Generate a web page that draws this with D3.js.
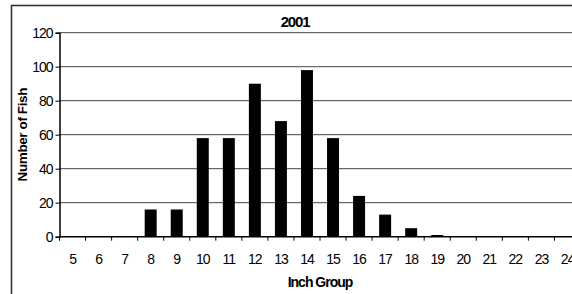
<!DOCTYPE html>
<html>
<head>
<meta charset="utf-8">
<script src="https://cdn.jsdelivr.net/npm/d3@7"></script>
<style>
  body { margin: 0; background: #fff; overflow: hidden; }
  text { font-family: "Liberation Sans", Arial, sans-serif; fill: #000; }
</style>
</head>
<body>
<div id="chart"></div>
<script>
// inch groups along the x axis
var inchGroups = [5, 6, 7, 8, 9, 10, 11, 12, 13, 14, 15, 16, 17, 18, 19, 20, 21, 22, 23, 24];
// number of fish in each group (2001)
var fishCounts = [0, 0, 0, 16, 16, 58, 58, 90, 68, 98, 58, 24, 13, 5, 1, 0, 0, 0, 0, 0];
var yTicks = [0, 20, 40, 60, 80, 100, 120];

var width = 572, height = 294;
var margin = {left: 59.5, top: 32.7};
var plotW = 521, plotH = 204;

var svg = d3.select("#chart").append("svg")
    .attr("width", width)
    .attr("height", height);

// outer chart frame (runs off the right and bottom edge)
svg.append("rect")
    .attr("x", 11.5).attr("y", 5.5)
    .attr("width", 620).attr("height", 320)
    .attr("fill", "none")
    .attr("stroke", "#333")
    .attr("stroke-width", 1.6);

var x = d3.scaleBand()
    .domain(inchGroups)
    .range([0, plotW])
    .padding(0);

var y = d3.scaleLinear()
    .domain([0, 120])
    .range([plotH, 0]);

var g = svg.append("g")
    .attr("transform", "translate(" + margin.left + "," + margin.top + ")");

// gridlines
g.selectAll(".grid")
    .data(yTicks.filter(function(d) { return d > 0; }))
    .enter().append("line")
    .attr("class", "grid")
    .attr("x1", 0).attr("x2", plotW)
    .attr("y1", function(d) { return y(d); })
    .attr("y2", function(d) { return y(d); })
    .attr("stroke", "#444")
    .attr("stroke-width", 1);

// bars
var barW = x.bandwidth() * 0.46;
g.selectAll(".bar")
    .data(fishCounts)
    .enter().append("rect")
    .attr("class", "bar")
    .attr("x", function(d, i) { return x(inchGroups[i]) + (x.bandwidth() - barW) / 2; })
    .attr("y", function(d) { return y(d); })
    .attr("width", barW)
    .attr("height", function(d) { return plotH - y(d); })
    .attr("fill", "#000");

// y axis
var yAxis = g.append("g")
    .call(d3.axisLeft(y).tickValues(yTicks).tickSize(4).tickPadding(3));
yAxis.select(".domain").attr("stroke", "#000").attr("stroke-width", 1.5);
yAxis.selectAll(".tick line").attr("stroke", "#000");
yAxis.selectAll(".tick text")
    .style("font-size", "14px")
    .style("letter-spacing", "-1px");

// x axis: ticks sit on the band edges, labels in the middle
var xAxisG = g.append("g")
    .attr("transform", "translate(0," + plotH + ")");
xAxisG.append("line")
    .attr("x1", 0).attr("x2", plotW)
    .attr("stroke", "#000").attr("stroke-width", 1.5);
xAxisG.selectAll(".xtick")
    .data(inchGroups)
    .enter().append("line")
    .attr("class", "xtick")
    .attr("x1", function(d) { return x(d); })
    .attr("x2", function(d) { return x(d); })
    .attr("y1", 0).attr("y2", 4)
    .attr("stroke", "#000");
xAxisG.selectAll(".xlabel")
    .data(inchGroups)
    .enter().append("text")
    .attr("class", "xlabel")
    .attr("x", function(d) { return x(d) + x.bandwidth() / 2; })
    .attr("y", 27)
    .attr("text-anchor", "middle")
    .style("font-size", "14px")
    .style("letter-spacing", "-1px")
    .text(function(d) { return d; });

// titles
svg.append("text")
    .attr("x", 295).attr("y", 27)
    .attr("text-anchor", "middle")
    .style("font-size", "15px").style("font-weight", "bold")
    .style("letter-spacing", "-1.2px")
    .text("2001");

svg.append("text")
    .attr("x", 320).attr("y", 287)
    .attr("text-anchor", "middle")
    .style("font-size", "14px").style("font-weight", "bold")
    .style("letter-spacing", "-1px")
    .text("Inch Group");

svg.append("text")
    .attr("transform", "translate(26.5," + (margin.top + plotH / 2) + ") rotate(-90)")
    .attr("text-anchor", "middle")
    .style("font-size", "13.5px").style("font-weight", "bold")
    .style("letter-spacing", "-0.4px")
    .text("Number of Fish");
</script>
</body>
</html>
